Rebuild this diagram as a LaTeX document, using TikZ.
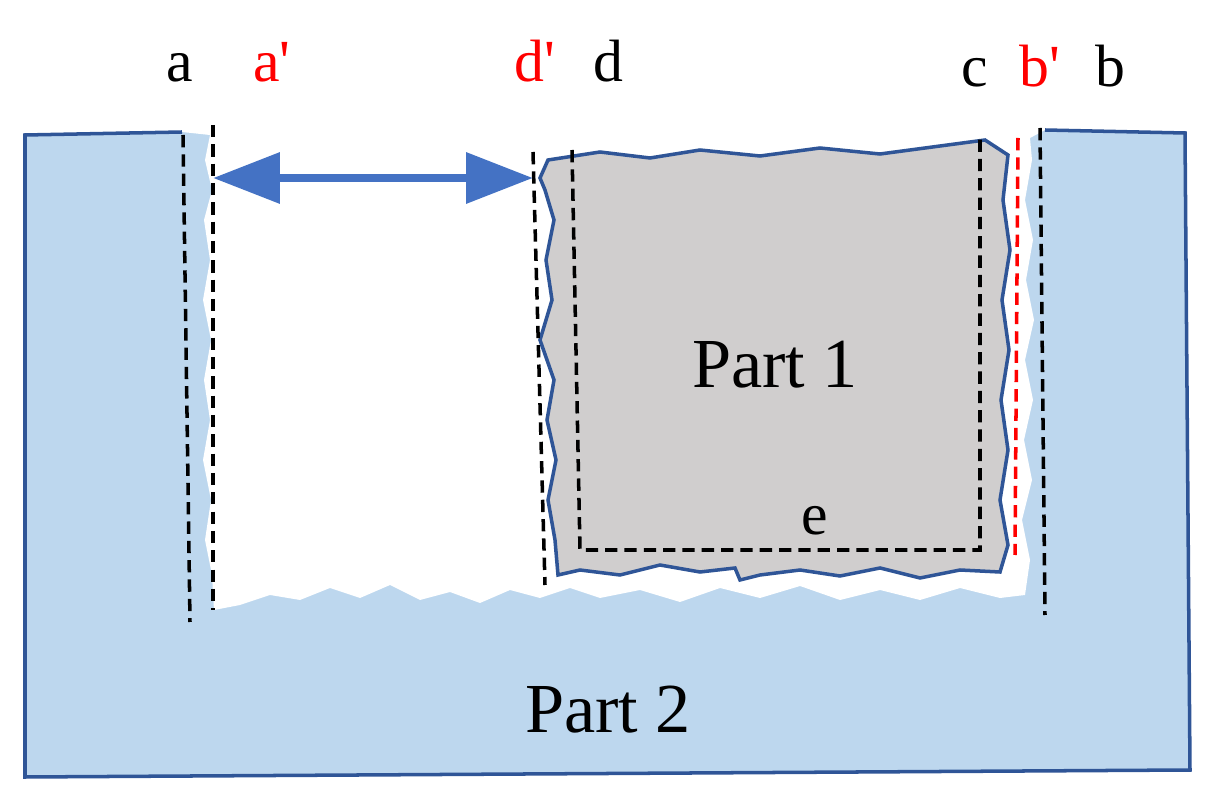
\documentclass[tikz,border=0pt]{standalone}
\usepackage{fontspec}
\setmainfont{Liberation Serif}
\usetikzlibrary{arrows.meta}
\definecolor{lb}{HTML}{BDD7EE}
\definecolor{db}{HTML}{2F5597}
\definecolor{ab}{HTML}{4472C4}
\definecolor{gr}{HTML}{D0CECE}
\newcommand{\pr}{\textquotesingle}
\begin{document}
\begin{tikzpicture}[x=0.02cm,y=-0.02cm,
  dl/.style={line width=2pt,dash pattern=on 7pt off 4pt},
  lab/.style={font=\fontsize{34}{34}\selectfont,anchor=base},
  big/.style={font=\fontsize{40}{40}\selectfont}]
\useasboundingbox (0,0) rectangle (1215,800);
% Part 2 fill
\fill[lb] (25,135) -- (182,132) -- (1045,130) -- (1185,133) -- (1190,770) -- (25,777) -- cycle;
\fill[white] (210,135) -- (205,160) -- (212,190) -- (204,220) -- (210,260) -- (203,300) -- (211,340) -- (204,380) -- (210,420) -- (203,460) -- (211,500) -- (205,540) -- (212,575) -- (214,610)
 -- (240,605) -- (270,595) -- (300,600) -- (330,588) -- (360,598) -- (390,585) -- (420,600) -- (450,592) -- (480,603) -- (510,590) -- (540,598) -- (570,588) -- (600,598) -- (640,590) -- (680,602) -- (720,588) -- (760,598) -- (800,586) -- (840,600) -- (880,590) -- (920,600) -- (960,588) -- (1000,598) -- (1025,595)
 -- (1030,560) -- (1022,520) -- (1032,480) -- (1024,440) -- (1033,400) -- (1025,360) -- (1034,320) -- (1026,280) -- (1033,240) -- (1025,200) -- (1032,160) -- (1030,138) -- (1045,130) -- (1045,0) -- (182,0) -- (182,132) -- cycle;
\draw[db,line width=2pt] (182,132) -- (25,135) -- (25,777) -- (1190,770) -- (1185,133) -- (1045,130);
% Part 1
\draw[db,line width=2pt,fill=gr] (540,178) -- (548,160) -- (600,152) -- (650,158) -- (700,150) -- (760,156) -- (820,148) -- (880,154) -- (940,146) -- (985,140) -- (1008,155) -- (1003,200) -- (1010,250) -- (1002,300) -- (1009,350) -- (1001,400) -- (1008,450) -- (1000,500) -- (1008,545) -- (1000,572) -- (960,570) -- (920,578) -- (880,568) -- (840,576) -- (800,570) -- (760,575) -- (740,580) -- (735,568) -- (700,572) -- (660,565) -- (620,575) -- (580,570) -- (558,575) -- (555,540) -- (548,500) -- (556,460) -- (547,420) -- (554,380) -- (540,340) -- (552,300) -- (546,260) -- (554,220) -- (545,190) -- cycle;
% dashed lines
\draw[dl] (183,135) -- (190,622);
\draw[dl] (213,125) -- (213,610);
\draw[dl] (533,152) -- (545,585);
\draw[dl] (572,150) -- (580,550) -- (980,550) -- (980,138);
\draw[dl,red] (1018,138) -- (1015,555);
\draw[dl] (1040,128) -- (1045,615);
% arrow
\coordinate (L) at (213,178);
\coordinate (R) at (533,178);
\draw[ab,line width=5pt,{Triangle[length=38pt,width=28pt]}-{Triangle[length=38pt,width=28pt]}] (L) -- (R);
% labels
\node[lab] (la) at (180,82) {a};
\node[lab,red] (lap) at (272,82) {a\pr};
\node[lab,red] (ldp) at (535,82) {d\pr};
\node[lab] (ld) at (608,82) {d};
\node[lab] (lc) at (975,87) {c};
\node[lab,red] (lbp) at (1040,87) {b\pr};
\node[lab] (lb2) at (1110,87) {b};
\node[big] (p1) at (775,365) {Part 1};
\node[lab] (le) at (815,535) {e};
\node[big] (p2) at (608,710) {Part 2};
\end{tikzpicture}
\end{document}
